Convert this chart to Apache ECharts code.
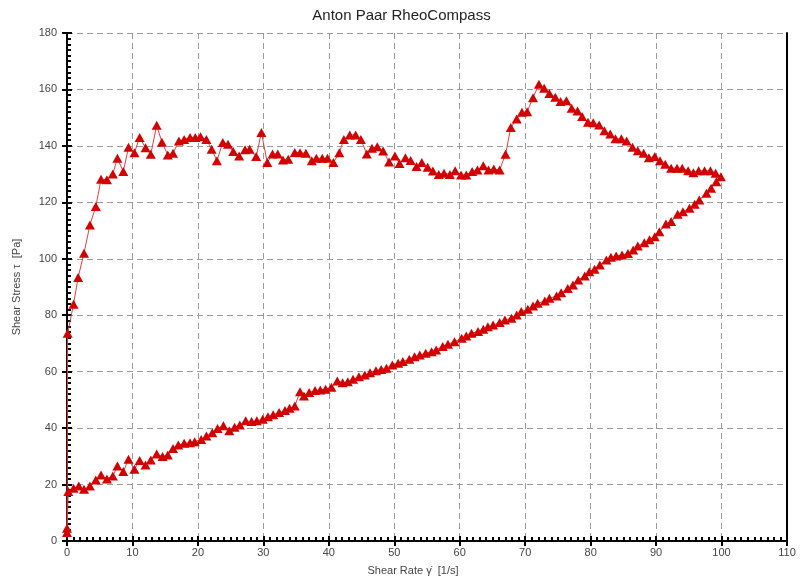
<!DOCTYPE html>
<html>
<head>
<meta charset="utf-8">
<script src="https://cdn.jsdelivr.net/npm/echarts@6/dist/echarts.min.js"></script>
<style>
html,body{margin:0;padding:0;background:#fff;}
#chart{width:803px;height:586px;}
</style>
</head>
<body>
<div id="chart"></div>
<script>
// Ramp up (shear rate increasing)
var upRate = [0, 0.1, 1.0, 1.7, 2.6, 3.5, 4.4, 5.2, 6.1, 7.0, 7.7, 8.6, 9.4, 10.3, 11.1, 12.0, 12.8, 13.7, 14.5, 15.4,
  16.2, 17.1, 17.9, 18.8, 19.6, 20.4, 21.3, 22.1, 22.9, 23.8, 24.6, 25.4, 26.3, 27.2, 27.9, 28.9, 29.7, 30.6, 31.4, 32.2,
  33.0, 33.8, 34.8, 35.6, 36.5, 37.4, 38.1, 39.0, 39.8, 40.7, 41.6, 42.3, 43.2, 44.1, 44.9, 45.8, 46.6, 47.4, 48.3, 49.2,
  50.1, 50.8, 51.7, 52.5, 53.4, 54.2, 55.1, 55.9, 56.8, 57.6, 58.5, 59.3, 60.2, 61.0, 61.9, 62.7, 63.6, 64.4, 65.2, 66.1,
  67.0, 67.8, 68.7, 69.5, 70.3, 71.2, 72.1, 72.9, 73.7, 74.6, 75.4, 76.3, 77.1, 78.0, 78.7, 79.6, 80.4, 81.3, 82.1, 83.0,
  83.8, 84.7, 85.5, 86.4, 87.2, 88.1, 88.9, 89.8, 90.6, 91.4, 92.3, 93.2, 94.0, 94.9, 95.7, 96.5, 97.4, 98.3, 99.1, 99.9];
var upStress = [3, 73.6, 83.9, 93.4, 102, 112, 118.5, 128.2, 128, 130, 135.6, 130.9, 139.5, 137.6, 143, 139.3, 137, 147.3, 141.3, 136.8,
  137.4, 141.7, 142.3, 143, 143, 143.2, 142.3, 138.8, 134.7, 141.2, 140.6, 138, 136.4, 138.6, 138.8, 136.2, 144.7, 134.1, 137.1, 137.1,
  135, 135.3, 137.7, 137.6, 137.4, 134.7, 135.6, 135.6, 135.6, 134.1, 137.6, 142.3, 143.9, 143.9, 142.3, 137.1, 139.2, 139.7, 138.2, 134.3,
  136.4, 133.8, 135.8, 134.8, 132.7, 134.1, 132.4, 131.1, 129.9, 130.3, 129.9, 131.2, 129.7, 129.7, 130.9, 131.5, 133, 131.5, 131.8, 131.5,
  137, 146.5, 149.5, 151.9, 152.1, 157.1, 161.8, 160.4, 158.6, 157.2, 155.7, 156, 153.3, 152.4, 150.4, 148.4, 148.2, 147.4, 145.4, 144.2,
  142.5, 142.5, 141.7, 139.5, 138.3, 137.4, 135.8, 136.2, 134.7, 133.5, 132.1, 132.1, 132.1, 131.2, 130.5, 131.2, 131.2, 131.2, 130.3, 129.1];

// Ramp down (shear rate decreasing)
var downRate = [99.2, 98.4, 97.7, 96.6, 95.9, 95.1, 94.1, 93.3, 92.3, 91.5, 90.5, 89.8, 89.0, 88.2, 87.2, 86.5, 85.7, 84.8, 83.9, 83.1,
  82.4, 81.4, 80.6, 79.8, 79.1, 78.1, 77.3, 76.5, 75.5, 74.8, 73.7, 73.0, 71.9, 71.2, 70.4, 69.4, 68.7, 67.9, 66.9, 66.1,
  65.1, 64.3, 63.6, 62.8, 61.8, 61.0, 60.3, 59.2, 58.2, 57.4, 56.4, 55.7, 54.8, 53.9, 53.1, 52.3, 51.3, 50.6, 49.7, 48.8,
  48.0, 47.2, 46.3, 45.5, 44.6, 43.7, 42.9, 42.1, 41.3, 40.4, 39.5, 38.7, 37.9, 37.0, 36.2, 35.6, 34.8, 34.0, 33.3, 32.4,
  31.5, 30.7, 29.9, 29.0, 28.2, 27.3, 26.4, 25.6, 24.8, 23.9, 23.0, 22.2, 21.3, 20.5, 19.5, 18.8, 17.9, 17.0, 16.2, 15.4,
  14.6, 13.7, 12.8, 12.0, 11.1, 10.3, 9.4, 8.6, 7.7, 7.0, 6.1, 5.2, 4.4, 3.5, 2.6, 1.8, 1.0, 0.2, 0];
var downStress = [127.3, 125, 123.2, 120.8, 119.3, 117.9, 116.7, 115.8, 113.2, 112.3, 109.6, 107.8, 106.7, 105.7, 104.5, 103.1, 101.9, 101.3, 101, 100.5,
  99.6, 97.8, 96.3, 95.4, 93.9, 92.5, 90.7, 89.5, 88, 86.8, 86, 85, 84.2, 83.3, 82.1, 81.3, 80.1, 78.9, 78.3, 77.4,
  76.5, 75.9, 75, 74.2, 73.6, 72.6, 71.8, 70.6, 69.7, 68.9, 67.7, 67.1, 66.5, 65.9, 65.3, 64.4, 63.6, 63, 62.4, 61.2,
  60.8, 60.3, 59.6, 58.8, 58.2, 57.3, 56.4, 56.1, 56.7, 54.5, 53.8, 53.5, 53.3, 52.6, 51.4, 52.9, 47.8, 47, 46.2, 45.5,
  44.7, 44, 43.1, 42.6, 42.3, 42.6, 41.1, 40.3, 39.1, 40.8, 39.9, 38.4, 37.2, 36, 35.2, 34.8, 34.6, 34, 32.8, 30.5,
  29.9, 30.8, 28.7, 26.9, 28.5, 25.4, 29, 24.6, 26.6, 23, 22, 23.4, 21.6, 19.5, 18.3, 19.5, 18.7, 17.5, 4.5];

var xMin = 0, xMax = 110, xStep = 10;
var yMin = 0, yMax = 180, yStep = 20;
var titleText = 'Anton Paar RheoCompass';
var xName = 'Shear Rate \u03B3\u0307  [1/s]';
var yName = 'Shear Stress \u03C4  [Pa]';

var pts = [];
for (var i = 0; i < upRate.length; i++) pts.push([upRate[i], upStress[i]]);
for (var j = 0; j < downRate.length; j++) pts.push([downRate[j], downStress[j]]);

var FONT = 'Liberation Sans, Arial, sans-serif';
var grid = {left: 67, right: 16, top: 33, bottom: 45, containLabel: false};
var dashed = {show: true, lineStyle: {color: '#9a9a9a', width: 1, type: [6, 4]}};

var chart = echarts.init(document.getElementById('chart'), null, {renderer: 'canvas'});
chart.setOption({
  animation: false,
  backgroundColor: '#ffffff',
  title: {
    text: titleText, left: 'center', top: 3,
    textStyle: {fontFamily: FONT, fontSize: 15, fontWeight: 'normal', color: '#222'}
  },
  grid: grid,
  xAxis: [
    {
      type: 'value', min: xMin, max: xMax, interval: xStep, position: 'bottom',
      name: xName, nameLocation: 'middle', nameGap: 24,
      nameTextStyle: {fontFamily: FONT, fontSize: 11, color: '#444', padding: [0, 28, 0, 0]},
      axisLine: {show: true, onZero: false, lineStyle: {color: '#000', width: 2}},
      axisTick: {show: true, inside: false, length: 5, lineStyle: {color: '#000', width: 2}},
      axisLabel: {fontFamily: FONT, fontSize: 11, color: '#444', margin: 6},
      splitLine: dashed,
      minorTick: {show: false}
    },
    {
      type: 'value', min: xMin, max: xMax, interval: xStep, position: 'bottom',
      axisLine: {show: false, onZero: false},
      axisTick: {show: true, inside: true, length: 5, lineStyle: {color: '#000', width: 2}},
      minorTick: {show: true, splitNumber: 10, length: 4, lineStyle: {color: '#000', width: 2}},
      axisLabel: {show: false},
      splitLine: {show: false}
    }
  ],
  yAxis: [
    {
      type: 'value', min: yMin, max: yMax, interval: yStep, position: 'left',
      name: yName, nameLocation: 'middle', nameGap: 45, nameRotate: 90,
      nameTextStyle: {fontFamily: FONT, fontSize: 11, color: '#444'},
      axisLine: {show: true, onZero: false, lineStyle: {color: '#000', width: 2}},
      axisTick: {show: true, inside: false, length: 5, lineStyle: {color: '#000', width: 2}},
      axisLabel: {fontFamily: FONT, fontSize: 11, color: '#444', margin: 10},
      splitLine: dashed,
      minorTick: {show: false}
    },
    {
      type: 'value', min: yMin, max: yMax, interval: yStep, position: 'left',
      axisLine: {show: false, onZero: false},
      axisTick: {show: true, inside: true, length: 5, lineStyle: {color: '#000', width: 2}},
      minorTick: {show: true, splitNumber: 10, length: 4, lineStyle: {color: '#000', width: 2}},
      axisLabel: {show: false},
      splitLine: {show: false}
    },
    {
      type: 'value', min: yMin, max: yMax, interval: yStep, position: 'right',
      axisLine: {show: true, onZero: false, lineStyle: {color: '#000', width: 2}},
      axisTick: {show: false}, axisLabel: {show: false}, splitLine: {show: false}
    }
  ],
  series: [{
    type: 'line',
    xAxisIndex: 0, yAxisIndex: 0,
    data: pts,
    symbol: 'triangle',
    symbolSize: [10, 9],
    showAllSymbol: true,
    itemStyle: {color: '#d20000', borderWidth: 0},
    lineStyle: {color: '#e04040', width: 1},
    emphasis: {disabled: true}
  }]
});
</script>
</body>
</html>
